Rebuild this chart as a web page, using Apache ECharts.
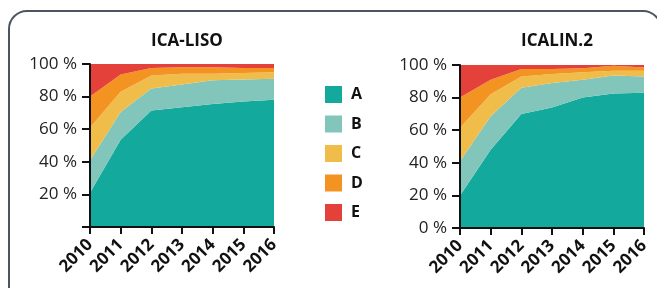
<!DOCTYPE html>
<html>
<head>
<meta charset="utf-8">
<script src="https://cdn.jsdelivr.net/npm/echarts@6/dist/echarts.min.js"></script>
<style>
  html, body { margin: 0; padding: 0; background: #fff; }
  #chart { width: 657px; height: 288px; }
</style>
</head>
<body>
<div id="chart"></div>
<script>
const years = ['2010', '2011', '2012', '2013', '2014', '2015', '2016']
const seriesNames = ['A', 'B', 'C', 'D', 'E']
const colors = ['#14a99d', '#82c5ba', '#f0bd4b', '#f39322', '#e3413a']

// ICA-LISO (share in %)
const lisoA = [21, 53.5, 71.5, 73.5, 75.5, 77, 78]
const lisoB = [20, 17, 13.5, 14, 14.5, 13.5, 13]
const lisoC = [20, 12.5, 8, 6.5, 4, 4, 4]
const lisoD = [19, 10.5, 4.5, 4, 4, 3, 2.5]
const lisoE = [20, 6.5, 2.5, 2, 2, 2.5, 2.5]

// ICALIN.2 (share in %)
const icalinA = [20, 48, 70, 74, 80, 82.5, 83]
const icalinB = [21, 20.5, 16, 15, 11, 11, 10]
const icalinC = [20.5, 13.5, 7, 5.5, 4.5, 3, 3.5]
const icalinD = [18.5, 9, 4.5, 3, 2.5, 3, 2]
const icalinE = [20, 9, 2.5, 2.5, 2, 0.5, 1.5]

const chart = echarts.init(document.getElementById('chart'))

const fontFamily = 'Open Sans, Noto Sans, sans-serif'

function makeSeries(list, idx) {
  return list.map((data, i) => ({
    name: seriesNames[i],
    type: 'line',
    stack: 'total' + idx,
    xAxisIndex: idx,
    yAxisIndex: idx,
    data: data,
    symbol: 'none',
    lineStyle: { width: 0 },
    areaStyle: { color: colors[i], opacity: 1 },
    itemStyle: { color: colors[i] },
    z: 2
  }))
}

function xAxis(idx) {
  return {
    type: 'category',
    gridIndex: idx,
    data: years,
    boundaryGap: false,
    axisLine: { lineStyle: { color: '#111', width: 2 } },
    axisTick: { show: true, interval: 0, length: 7, lineStyle: { color: '#111', width: 2 } },
    axisLabel: {
      interval: 0,
      hideOverlap: false,
      rotate: 45,
      color: '#111',
      fontSize: 17,
      fontWeight: 'bold',
      fontFamily: fontFamily,
      margin: 15
    },
    z: 5
  }
}

function yAxis(idx, showZero) {
  return {
    type: 'value',
    gridIndex: idx,
    min: 0,
    max: 100,
    interval: 20,
    axisLine: { show: true, lineStyle: { color: '#111', width: 2 } },
    axisTick: { show: true, length: 8, lineStyle: { color: '#111', width: 2 } },
    splitLine: { show: false },
    axisLabel: {
      color: '#222',
      fontSize: 17,
      fontFamily: fontFamily,
      margin: 13,
      formatter: (v) => (v === 0 && !showZero ? '' : v + ' %')
    },
    z: 5
  }
}

const option = {
  animation: false,
  graphic: [
    {
      type: 'rect',
      shape: { x: 9, y: 11, width: 652, height: 300, r: 18 },
      style: { fill: 'none', stroke: '#4b5661', lineWidth: 2 },
      silent: true
    }
  ],
  title: [
    {
      text: 'ICA-LISO',
      left: 182,
      top: 28,
      textAlign: 'center',
      textStyle: { fontSize: 17, fontWeight: 'bold', color: '#111', fontFamily: fontFamily }
    },
    {
      text: 'ICALIN.2',
      left: 552,
      top: 28,
      textAlign: 'center',
      textStyle: { fontSize: 17, fontWeight: 'bold', color: '#111', fontFamily: fontFamily }
    }
  ],
  legend: {
    data: seriesNames,
    orient: 'vertical',
    left: 320,
    top: 81,
    itemWidth: 17,
    itemHeight: 17,
    itemGap: 12.5,
    icon: 'rect',
    textStyle: { fontSize: 16, fontWeight: 'bold', color: '#111', fontFamily: fontFamily, padding: [0, 0, 0, 4] },
    selectedMode: false
  },
  grid: [
    { left: 90, right: 383, top: 64, bottom: 61 },
    { left: 460, right: 13, top: 65, bottom: 60 }
  ],
  xAxis: [xAxis(0), xAxis(1)],
  yAxis: [yAxis(0, false), yAxis(1, true)],
  series: [
    ...makeSeries([lisoA, lisoB, lisoC, lisoD, lisoE], 0),
    ...makeSeries([icalinA, icalinB, icalinC, icalinD, icalinE], 1)
  ]
}

chart.setOption(option)
</script>
</body>
</html>
